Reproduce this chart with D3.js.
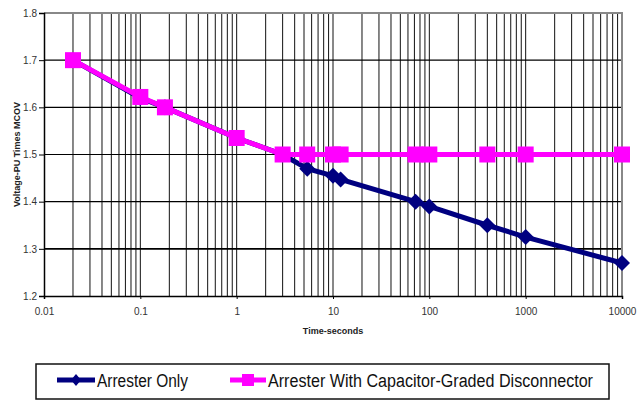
<!DOCTYPE html>
<html>
<head>
<meta charset="utf-8">
<script src="https://cdn.jsdelivr.net/npm/d3@7"></script>
<style>
  body { margin: 0; background: #fff; }
  text { font-family: "Liberation Sans Narrow", "Liberation Sans", Arial, sans-serif; }
</style>
</head>
<body>
<div id="chart"></div>
<script>
// data
const times = [0.02, 0.1, 0.18, 1, 3, 5.4, 10, 12, 72, 100, 400, 1000, 10000]
const arresterOnly = [1.70, 1.62, 1.60, 1.535, 1.50, 1.47, 1.455, 1.447, 1.40, 1.39, 1.35, 1.325, 1.27]
const withDisconnector = [1.70, 1.622, 1.60, 1.535, 1.50, 1.50, 1.50, 1.50, 1.50, 1.50, 1.50, 1.50, 1.50]
const xTickLabels = ["0.01", "0.1", "1", "10", "100", "1000", "10000"]
const yTicks = [1.2, 1.3, 1.4, 1.5, 1.6, 1.7, 1.8]
const seriesNames = ["Arrester Only", "Arrester With Capacitor-Graded Disconnector"]

const width = 641
const height = 401
const plot = { left: 44, right: 622, top: 13, bottom: 296 }

const svg = d3.select("#chart").append("svg")
    .attr("width", width)
    .attr("height", height)

const x = d3.scaleLog().domain([0.01, 10000]).range([plot.left, plot.right])
const y = d3.scaleLinear().domain([1.2, 1.8]).range([plot.bottom, plot.top])

// vertical grid: every 1..9 of each decade
let gridVals = []
for (let e = -2; e < 4; e++) {
  for (let k = 1; k <= 9; k++) gridVals.push(k * Math.pow(10, e))
}
gridVals = gridVals.filter(v => v > 0.01)
svg.append("g").selectAll("line")
    .data(gridVals)
    .enter().append("line")
    .attr("x1", d => x(d)).attr("x2", d => x(d))
    .attr("y1", plot.top).attr("y2", plot.bottom)
    .attr("stroke", "#111")
    .attr("stroke-width", 1)

// horizontal grid
svg.append("g").selectAll("line")
    .data(yTicks.filter(d => d > 1.2 && d < 1.8))
    .enter().append("line")
    .attr("x1", plot.left).attr("x2", plot.right)
    .attr("y1", d => y(d)).attr("y2", d => y(d))
    .attr("stroke", "#000")
    .attr("stroke-width", d => d === 1.3 ? 1.6 : 1.1)

// plot frame: top and right in grey
svg.append("path")
    .attr("d", `M${plot.left},${plot.top}H${plot.right}V${plot.bottom}`)
    .attr("fill", "none")
    .attr("stroke", "#888")
    .attr("stroke-width", 2)

// axes
const yAxis = svg.append("g")
    .attr("transform", `translate(${plot.left},0)`)
    .call(d3.axisLeft(y).tickValues(yTicks).tickSize(5).tickPadding(2).tickFormat(d3.format(".1f")))
yAxis.select(".domain").attr("stroke", "#000").attr("stroke-width", 1.5)
yAxis.selectAll("text").attr("font-size", 10).attr("fill", "#333")

const xAxis = svg.append("g")
    .attr("transform", `translate(0,${plot.bottom})`)
    .call(d3.axisBottom(x).tickValues(xTickLabels.map(Number)).tickSize(3).tickPadding(9)
      .tickFormat((d, i) => xTickLabels[i]))
xAxis.select(".domain").attr("stroke", "#000").attr("stroke-width", 1.5)
xAxis.selectAll("text").attr("font-size", 10).attr("fill", "#333")

// axis titles
svg.append("text")
    .attr("x", (plot.left + plot.right) / 2)
    .attr("y", 334)
    .attr("text-anchor", "middle")
    .attr("font-size", 9)
    .attr("font-weight", "bold")
    .attr("fill", "#222")
    .text("Time-seconds")

svg.append("text")
    .attr("transform", `translate(20,${(plot.top + plot.bottom) / 2}) rotate(-90)`)
    .attr("text-anchor", "middle")
    .attr("font-size", 9)
    .attr("font-weight", "bold")
    .attr("fill", "#222")
    .text("Voltage-PU Times MCOV")

// series
const navy = "#000080"
const magenta = "#ff00ff"
const line = d3.line().x(d => x(d[0])).y(d => y(d[1]))

const s1 = times.map((t, i) => [t, arresterOnly[i]])
const s2 = times.map((t, i) => [t, withDisconnector[i]])

svg.append("path").datum(s1)
    .attr("d", line)
    .attr("fill", "none")
    .attr("stroke", navy)
    .attr("stroke-width", 5)
svg.append("g").selectAll("path")
    .data(s1)
    .enter().append("path")
    .attr("transform", d => `translate(${x(d[0])},${y(d[1])})`)
    .attr("d", "M0,-8L8,0L0,8L-8,0Z")
    .attr("fill", navy)

svg.append("path").datum(s2)
    .attr("d", line)
    .attr("fill", "none")
    .attr("stroke", magenta)
    .attr("stroke-width", 5)
svg.append("g").selectAll("rect")
    .data(s2)
    .enter().append("rect")
    .attr("x", d => x(d[0]) - 8)
    .attr("y", d => y(d[1]) - 8)
    .attr("width", 16)
    .attr("height", 16)
    .attr("fill", magenta)

// legend
const legend = svg.append("g")
legend.append("rect")
    .attr("x", 36).attr("y", 364)
    .attr("width", 573).attr("height", 35)
    .attr("fill", "#fff")
    .attr("stroke", "#111")
    .attr("stroke-width", 1.5)

const legendItems = [
  { name: seriesNames[0], color: navy, x0: 57, x1: 95, tx: 97, tw: 91, mark: "diamond" },
  { name: seriesNames[1], color: magenta, x0: 230, x1: 266, tx: 268, tw: 325, mark: "square" }
]
const ly = 380
legendItems.forEach(it => {
  legend.append("line")
      .attr("x1", it.x0).attr("x2", it.x1)
      .attr("y1", ly).attr("y2", ly)
      .attr("stroke", it.color)
      .attr("stroke-width", 5)
  const cx = (it.x0 + it.x1) / 2
  if (it.mark === "diamond") {
    legend.append("path")
        .attr("transform", `translate(${cx},${ly})`)
        .attr("d", "M0,-6L5,0L0,6L-5,0Z")
        .attr("fill", it.color)
  } else {
    legend.append("rect")
        .attr("x", cx - 6).attr("y", ly - 6)
        .attr("width", 12).attr("height", 12)
        .attr("fill", it.color)
  }
  legend.append("text")
      .attr("x", it.tx).attr("y", ly + 7)
      .attr("font-size", 18)
      .attr("fill", "#111")
      .attr("textLength", it.tw)
      .attr("lengthAdjust", "spacingAndGlyphs")
      .text(it.name)
})
</script>
</body>
</html>
